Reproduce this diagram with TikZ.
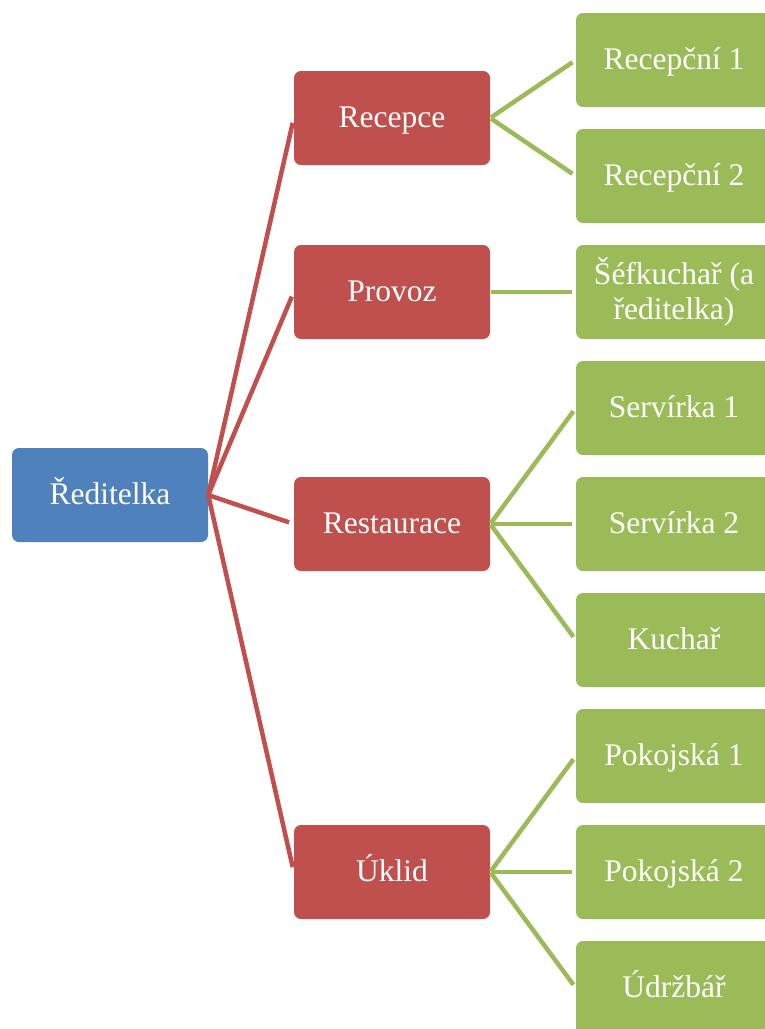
\documentclass[tikz,border=0pt]{standalone}
\usepackage{fontspec}
\setmainfont{Liberation Serif}
\definecolor{cblue}{HTML}{4F81BD}
\definecolor{cred}{HTML}{C0504D}
\definecolor{cgreen}{HTML}{9BBB59}
\begin{document}
\begin{tikzpicture}[x=1pt,y=-1pt,
  box/.style={rounded corners=7pt, minimum width=196pt, minimum height=94pt, inner sep=0pt,
    text=white, align=center, font=\fontsize{31.5}{35}\selectfont},
  oneline/.style={text height=22pt, text depth=4pt},
  rootbox/.style={box, oneline, fill=cblue},
  midbox/.style={box, oneline, fill=cred},
  leafbox/.style={box, oneline, fill=cgreen},
  leaftwo/.style={box, fill=cgreen},
  redline/.style={draw=cred, line width=4.5pt, shorten >=5pt},
  greenline/.style={draw=cgreen, line width=4.5pt, shorten >=4pt, shorten <=1pt}]
\useasboundingbox (0,0) rectangle (765,1029);
\clip (0,0) rectangle (765,1029);
\node[rootbox] (root) at (110,495) {Ředitelka};
\node[midbox] (rec) at (392,118) {Recepce};
\node[midbox] (pro) at (392,292) {Provoz};
\node[midbox] (res) at (392,524) {Restaurace};
\node[midbox] (ukl) at (392,872) {Úklid};
\node[leafbox] (r1) at (674,60) {Recepční 1};
\node[leafbox] (r2) at (674,176) {Recepční 2};
\node[leaftwo] (sef) at (674,292) {Šéfkuchař (a\\ředitelka)};
\node[leafbox] (s1) at (674,408) {Servírka 1};
\node[leafbox] (s2) at (674,524) {Servírka 2};
\node[leafbox] (ku) at (674,640) {Kuchař};
\node[leafbox] (p1) at (674,756) {Pokojská 1};
\node[leafbox] (p2) at (674,872) {Pokojská 2};
\node[leafbox] (ud) at (674,988) {Údržbář};
\foreach \c in {rec,pro,res,ukl}
  \draw[redline] (root.east) -- (\c.west);
\foreach \p/\c in {rec/r1,rec/r2,pro/sef,res/s1,res/s2,res/ku,ukl/p1,ukl/p2,ukl/ud}
  \draw[greenline] (\p.east) -- (\c.west);
\end{tikzpicture}
\end{document}
